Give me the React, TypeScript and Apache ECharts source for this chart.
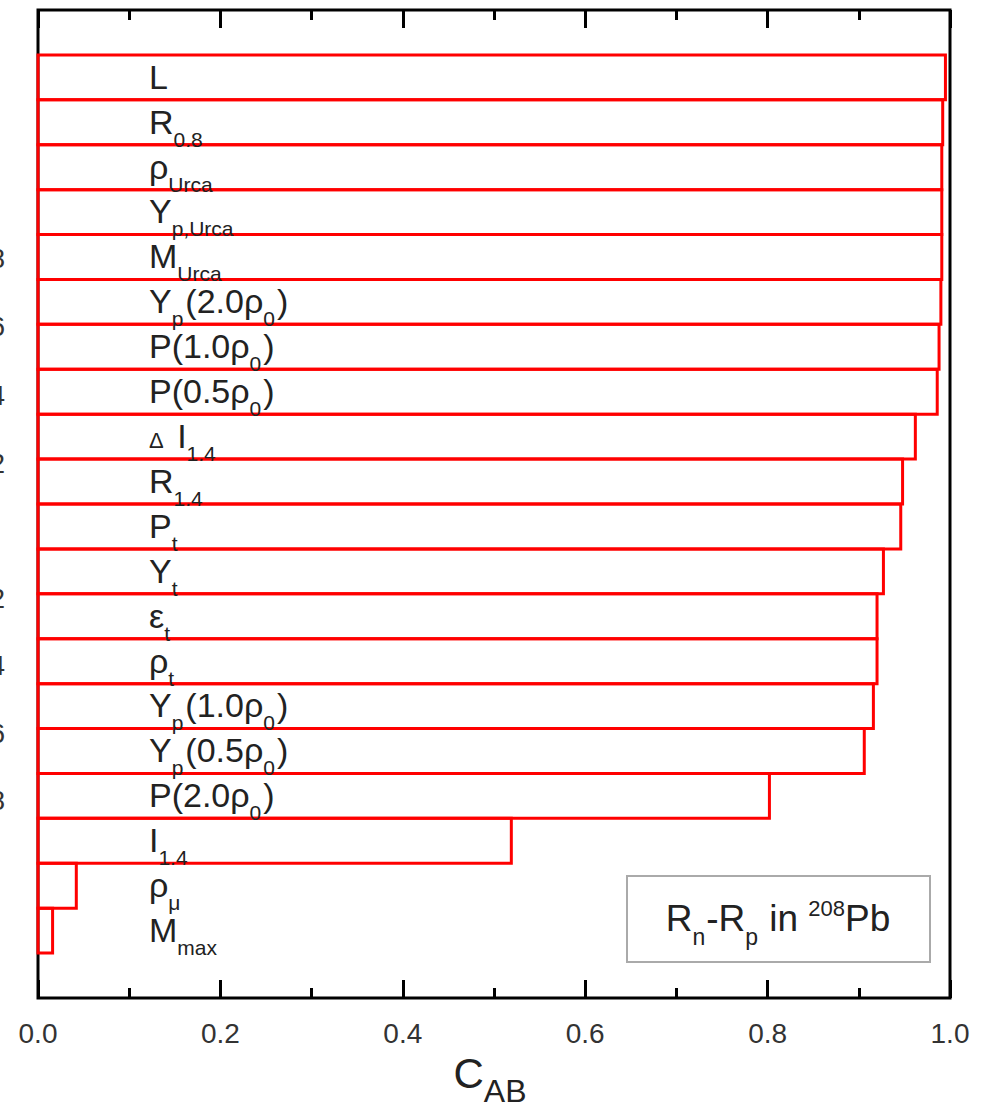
import React, { useEffect, useRef } from "react";
import * as echarts from "echarts";

// Parameter names (top to bottom), "_{...}" marks a subscript, "^{...}" a superscript
const categories: string[] = [
  "L",
  "R_{0.8}",
  "ρ_{Urca}",
  "Y_{p,Urca}",
  "M_{Urca}",
  "Y_{p}(2.0ρ_{0})",
  "P(1.0ρ_{0})",
  "P(0.5ρ_{0})",
  "Δ I_{1.4}",
  "R_{1.4}",
  "P_{t}",
  "Y_{t}",
  "ε_{t}",
  "ρ_{t}",
  "Y_{p}(1.0ρ_{0})",
  "Y_{p}(0.5ρ_{0})",
  "P(2.0ρ_{0})",
  "I_{1.4}",
  "ρ_{μ}",
  "M_{max}",
];

// Correlation coefficients C_AB
const values: number[] = [
  0.995, 0.992, 0.991, 0.991, 0.991, 0.99, 0.988, 0.986, 0.962, 0.948,
  0.946, 0.927, 0.92, 0.92, 0.916, 0.906, 0.802, 0.519, 0.042, 0.016,
];

const xTicks: number[] = [0, 0.2, 0.4, 0.6, 0.8, 1.0];
const legendText = "R_{n}-R_{p} in ^{208}Pb";
const axisTitle = "C_{AB}";

// Cut-off tick labels of the neighbouring panel at the left edge
const leftFragments: string[] = ["0.8", "0.6", "0.4", "0.2", "0.2", "0.4", "0.6", "0.8"];
const leftFragmentY: number[] = [258, 326, 395, 463, 598, 665, 733, 800];

const FONT_NAME = "Liberation Sans";
const FONT = "Liberation Sans, Arial, Helvetica, sans-serif";
const TEXT_COLOR = "#222";

type Tok = { text: string; kind: "m" | "s" | "u" | "d" };

function parse(s: string): Tok[] {
  const re = /_\{([^}]*)\}|\^\{([^}]*)\}|Δ|[^_^Δ]+/g;
  const out: Tok[] = [];
  let m: RegExpExecArray | null;
  while ((m = re.exec(s)) !== null) {
    if (m[1] !== undefined) out.push({ text: m[1], kind: "s" });
    else if (m[2] !== undefined) out.push({ text: m[2], kind: "u" });
    else if (m[0] === "Δ") out.push({ text: "Δ", kind: "d" });
    else out.push({ text: m[0], kind: "m" });
  }
  return out;
}

let measureCtx: CanvasRenderingContext2D | null = null;
function textWidth(t: string, size: number): number {
  if (!measureCtx) measureCtx = document.createElement("canvas").getContext("2d");
  if (!measureCtx) return t.length * size * 0.55;
  measureCtx.font = `${size}px "${FONT_NAME}"`;
  return measureCtx.measureText(t).width;
}

type Sizes = { m: number; s: number; u: number; d: number; subDrop: number; supRise: number; dGap: number; sGap: number };

// Lay out tokens; returns text elements with x (left) and y (centre) relative to (x0, baseline)
function layout(s: string, sz: Sizes) {
  const toks = parse(s);
  let x = 0;
  const els: { text: string; x: number; y: number; size: number }[] = [];
  toks.forEach((t, i) => {
    const size = sz[t.kind];
    let baseline = 0;
    if (t.kind === "s") baseline = sz.subDrop;
    if (t.kind === "u") baseline = -sz.supRise;
    els.push({ text: t.text, x, y: baseline - 0.3465 * size, size });
    x += textWidth(t.text, size);
    if (t.kind === "d") x += sz.dGap;
    if (t.kind === "s" && i < toks.length - 1) x += sz.sGap;
  });
  return { els, width: x };
}

const labelSizes: Sizes = { m: 34, s: 21, u: 21, d: 22, subDrop: 13, supRise: 14, dGap: 4, sGap: 2 };
const legendSizes: Sizes = { m: 37, s: 23, u: 22, d: 22, subDrop: 14, supRise: 15, dGap: 0, sGap: 1 };
const titleSizes: Sizes = { m: 42, s: 32, u: 32, d: 32, subDrop: 14, supRise: 15, dGap: 0, sGap: 0 };

export default function App() {
  const ref = useRef<HTMLDivElement>(null);
  useEffect(() => {
    document.body.style.margin = "0";
    if (!ref.current) return;
    const chart = echarts.init(ref.current, null, { renderer: "svg" });

    const yCats = [" ", ...categories, "  "];
    const layouts = categories.map((c) => layout(c, labelSizes));

    const axisCommon: any = {
      type: "value",
      min: 0,
      max: 1,
      interval: 0.2,
      axisLine: { show: false },
      axisTick: { show: true, inside: true, length: 18, lineStyle: { color: "#000", width: 3 } },
      minorTick: { show: true, splitNumber: 2, length: 10, lineStyle: { color: "#000", width: 3 } },
      splitLine: { show: false },
      minorSplitLine: { show: false },
    };

    const textEl = (e: { text: string; x: number; y: number; size: number }, ox: number, oy: number) => ({
      type: "text",
      z2: 10,
      style: {
        text: e.text,
        x: ox + e.x,
        y: oy + e.y,
        fontSize: e.size,
        fontFamily: FONT,
        fill: TEXT_COLOR,
        align: "left",
        verticalAlign: "middle",
      },
    });

    const renderItem = (params: any, api: any) => {
      const idx = params.dataIndex;
      const v = api.value(0);
      const cat = api.value(1);
      const p0 = api.coord([0, cat]);
      const p1 = api.coord([v, cat]);
      const h = api.size([0, 1])[1];
      const lay = layouts[idx];
      const baseX = p0[0] + 111;
      const baseY = p0[1] - 1 + 0.358 * labelSizes.m;
      return {
        type: "group",
        children: [
          {
            type: "rect",
            z2: 1,
            shape: { x: p0[0], y: p0[1] - h / 2, width: p1[0] - p0[0], height: h },
            style: { fill: "none", stroke: "#ff0000", lineWidth: 3 },
          },
          ...lay.els.map((e) => textEl(e, baseX, baseY)),
        ],
      };
    };

    // legend text layout
    const leg = layout(legendText, legendSizes);
    const legX = 778 - leg.width / 2;
    const legBase = 918 + 0.358 * legendSizes.m;
    const ttl = layout(axisTitle, titleSizes);
    const ttlX = 490 - ttl.width / 2;
    const ttlBase = 1073 + 0.358 * titleSizes.m;

    const option: any = {
      animation: false,
      backgroundColor: "#fff",
      grid: {
        left: 38,
        right: 38,
        top: 10,
        bottom: 105,
        show: true,
        borderColor: "#000",
        borderWidth: 3,
        backgroundColor: "transparent",
      },
      xAxis: [
        {
          ...axisCommon,
          position: "bottom",
          axisLabel: {
            show: true,
            margin: 21,
            fontSize: 28,
            color: "#333",
            fontFamily: FONT,
            formatter: (v: number) => (xTicks.includes(Math.round(v * 10) / 10) ? v.toFixed(1) : ""),
          },
        },
        {
          ...axisCommon,
          position: "top",
          axisLabel: { show: false },
        },
      ],
      yAxis: {
        type: "category",
        inverse: true,
        data: yCats,
        axisLine: { show: false },
        axisTick: { show: false },
        axisLabel: { show: false },
        splitLine: { show: false },
      },
      series: [
        {
          type: "custom",
          xAxisIndex: 0,
          silent: true,
          renderItem,
          encode: { x: 0, y: 1 },
          data: values.map((v, i) => [v, i + 1]),
        },
      ],
      graphic: [
        {
          type: "rect",
          shape: { x: 627, y: 876, width: 303, height: 86 },
          style: { fill: "#fff", stroke: "#aaa", lineWidth: 2 },
          z: 10,
        },
        ...leg.els.map((e) => ({ ...textEl(e, legX, legBase), z: 11 })),
        ...ttl.els.map((e) => ({ ...textEl(e, ttlX, ttlBase), z: 11 })),
        ...leftFragments.map((t, i) => ({
          type: "text",
          x: 5,
          y: leftFragmentY[i],
          style: {
            text: t,
            align: "right",
            verticalAlign: "middle",
            fontSize: 28,
            fontFamily: FONT,
            fill: "#333",
          },
        })),
      ],
    };

    chart.setOption(option);
    return () => chart.dispose();
  }, []);

  return <div ref={ref} style={{ width: 988, height: 1103 }} />;
}
